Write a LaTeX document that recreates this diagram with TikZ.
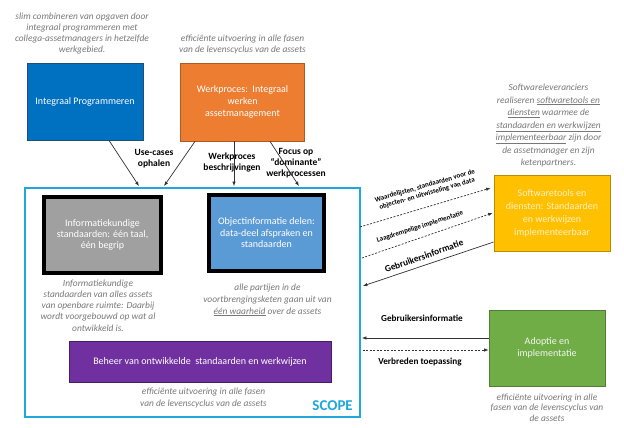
\documentclass[tikz,border=0pt]{standalone}
\usepackage{fontspec}
\setmainfont{Carlito}
\usetikzlibrary{arrows.meta,calc}
\definecolor{capgray}{RGB}{120,120,120}
\definecolor{arrgray}{RGB}{50,50,50}
\definecolor{ipblue}{RGB}{0,112,192}
\definecolor{ipedge}{RGB}{31,78,121}
\definecolor{wporange}{RGB}{237,125,49}
\definecolor{wpedge}{RGB}{174,90,33}
\definecolor{stdgray}{RGB}{160,160,160}
\definecolor{objblue}{RGB}{91,155,213}
\definecolor{purp}{RGB}{112,48,160}
\definecolor{purpedge}{RGB}{70,30,100}
\definecolor{yel}{RGB}{255,192,0}
\definecolor{yeledge}{RGB}{188,140,0}
\definecolor{grn}{RGB}{112,173,71}
\definecolor{grnedge}{RGB}{80,126,50}
\definecolor{scopec}{RGB}{30,168,220}
\definecolor{paleyel}{RGB}{255,240,200}
\begin{document}
\begin{tikzpicture}[x=1pt,y=-1pt,
  cbox/.style={rectangle, inner sep=2pt, align=center, text=white, line width=0.8pt,
    font=\fontsize{10}{11.7}\selectfont},
  thickbox/.style={cbox, draw=black, line width=4pt},
  captxt/.style={align=center, text=capgray, inner sep=0pt,
    font=\fontsize{9.4}{11.3}\selectfont\itshape},
  lab/.style={align=center, inner sep=0pt, text=black,
    font=\fontsize{9.5}{11}\selectfont\bfseries},
  slab/.style={align=center, inner sep=0pt, text=black,
    font=\fontsize{7}{8}\selectfont\bfseries},
  arr/.style={draw=arrgray, line width=0.7pt, -{Latex[length=4.5pt,width=3.5pt]}},
  dsh/.style={arr, dash pattern=on 2pt off 1.5pt}
]
\useasboundingbox (0,0) rectangle (624,428);
\fill[white] (0,0) rectangle (624,428);

% top boxes
\node[cbox, draw=ipedge, fill=ipblue, minimum width=116pt, minimum height=77pt] (ip) at (85,101.5) {Integraal Programmeren};
\node[cbox, draw=wpedge, fill=wporange, minimum width=124pt, minimum height=78pt] (wp) at (242.5,102) {Werkproces:\ \ Integraal\\werken\\assetmanagement};

% captions top
\node[captxt] (capip) at (82,33.5) {slim combineren van opgaven door\\integraal programmeren met\\collega-assetmanagers in hetzelfde\\werkgebied.};
\node[captxt, font=\fontsize{9.4}{11}\selectfont\itshape] (capwp) at (242.5,44.5) {efficiënte uitvoering in alle fasen\\van de levenscyclus van de assets};
\node[captxt, font=\fontsize{9.4}{12.5}\selectfont\itshape] (capsw) at (548.5,125.5) {Softwareleveranciers\\realiseren \underline{softwaretools en}\\\underline{diensten} waarmee de\\\underline{standaarden en werkwijzen}\\\underline{implementeerbaar} zijn door\\de assetmanager en zijn\\ketenpartners.};

% scope
\node[draw=scopec, line width=1.8pt, minimum width=335pt, minimum height=229pt, inner sep=0pt] (scope) at (192.5,302.5) {};
\node[anchor=east, text=scopec, font=\fontsize{15}{15}\selectfont\bfseries, inner sep=0pt] (scopetxt) at (353,406) {SCOPE};

% inner boxes
\node[thickbox, fill=stdgray, minimum width=117pt, minimum height=76pt, font=\fontsize{10}{11}\selectfont] (std) at (102.5,235) {Informatiekundige\\standaarden: één taal,\\één begrip};
\node[thickbox, fill=objblue, minimum width=115pt, minimum height=76pt, font=\fontsize{10}{11.5}\selectfont] (obj) at (266.5,233) {Objectinformatie delen:\\data-deel afspraken en\\standaarden};
\node[cbox, draw=purpedge, fill=purp, minimum width=262pt, minimum height=41pt] (beh) at (200,361.5) {Beheer van ontwikkelde\ \ standaarden en werkwijzen};

\node[captxt, font=\fontsize{9.4}{11.25}\selectfont\itshape] (capstd) at (98,305.5) {Informatiekundige\\standaarden van alles assets\\van openbare ruimte: Daarbij\\wordt voorgebouwd op wat al\\ontwikkeld is.};
\node[captxt, font=\fontsize{9.4}{12}\selectfont\itshape] (capobj) at (267.5,300) {alle partijen in de\\voortbrengingsketen gaan uit van\\\underline{één waarheid} over de assets};
\node[captxt, font=\fontsize{9.4}{12}\selectfont\itshape] (capbeh) at (203.5,398) {efficiënte uitvoering in alle fasen\\van de levenscyclus van de assets};

% right boxes
\node[cbox, draw=yeledge, fill=yel, text=paleyel, minimum width=116pt, minimum height=76pt, font=\fontsize{10}{13}\selectfont] (sw) at (552,213) {Softwaretools en\\diensten: Standaarden\\en werkwijzen\\implementeerbaar};
\node[cbox, draw=grnedge, fill=grn, text=white!90!grn, minimum width=116pt, minimum height=76pt, font=\fontsize{10}{11.5}\selectfont] (ad) at (547,348) {Adoptie en\\implementatie};
\node[captxt, font=\fontsize{9.4}{10.7}\selectfont\itshape] (capad) at (547,407.5) {efficiënte uitvoering in alle\\fasen van de levenscyclus van\\de assets};

% top labels
\node[lab] (l1) at (154,158.5) {Use-cases\\ophalen};
\node[lab] (l2) at (232,162) {Werkproces\\beschrijvingen};
\node[lab] (l3) at (296,163) {Focus op\\“dominante”\\werkprocessen};

% top arrows
\draw[arr] ([xshift=24pt]ip.south) -- ([xshift=-53.5pt,yshift=1pt]scope.north);
\draw[arr] ([xshift=-47.5pt]wp.south) -- ([xshift=-28.5pt,yshift=1pt]scope.north);
\draw[arr] ([xshift=-8.5pt]wp.south) -- ([xshift=41.5pt,yshift=1pt]scope.north);
\draw[arr] ([xshift=27.5pt]wp.south) -- ([xshift=106.5pt,yshift=1pt]scope.north);

% right labels
\node[slab, rotate=16] (l4) at (426,190) {Waardelijsten, standaarden voor de\\objecten- en uitwisseling van data};
\node[slab, rotate=18] (l5) at (420,227) {Laagdrempelige implementatie};
\node[lab, font=\fontsize{9.3}{11}\selectfont\bfseries, rotate=19.5] (l6) at (424,256) {Gebruikersinformatie};
\node[lab, font=\fontsize{9.2}{11}\selectfont\bfseries] (l7) at (422,318) {Gebruikersinformatie};
\node[lab, font=\fontsize{9.2}{11}\selectfont\bfseries] (l8) at (420,362) {Verbreden toepassing};

% right arrows
\draw[dsh] ([xshift=-1pt,yshift=75.5pt]scope.east) -- ([xshift=-3pt,yshift=25pt]sw.west);
\draw[dsh] ([xshift=1pt,yshift=44.5pt]scope.east) -- ([xshift=-1pt]sw.west);
\draw[arr] ([yshift=-29pt]sw.west) -- ([xshift=2pt,yshift=16.5pt]scope.east);
\draw[arr] ([yshift=10pt]ad.west) -- ([xshift=1pt,yshift=-35.5pt]scope.east);
\draw[dsh] ([xshift=2pt,yshift=-47.5pt]scope.east) -- ([yshift=-2pt]ad.west);
\end{tikzpicture}
\end{document}
